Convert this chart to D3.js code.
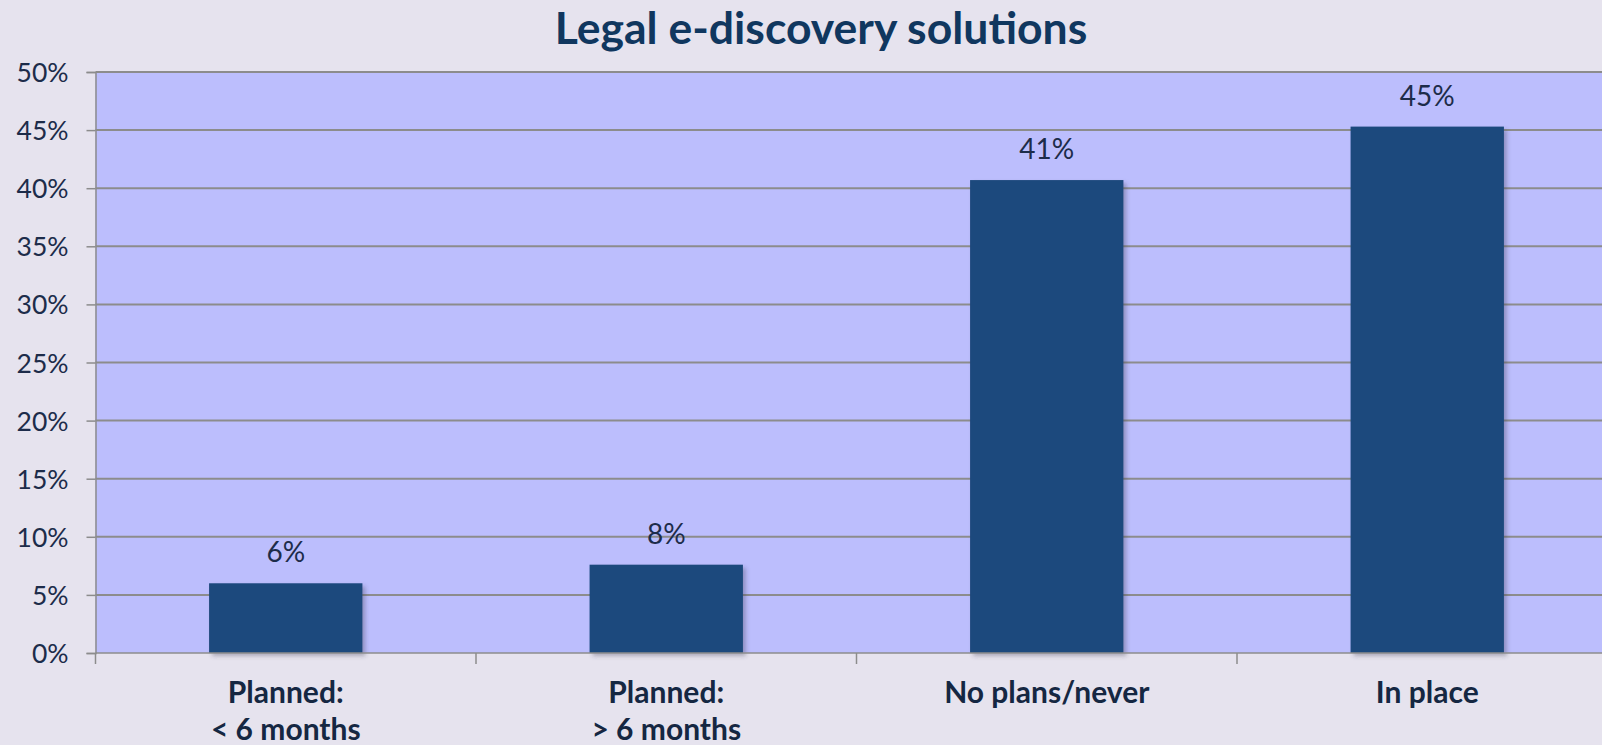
<!DOCTYPE html>
<html>
<head>
<meta charset="utf-8">
<script src="https://cdn.jsdelivr.net/npm/d3@7/dist/d3.min.js"></script>
<style>
  html, body { margin: 0; padding: 0; background: #E6E3EE; overflow: hidden; }
  svg { display: block; }
</style>
</head>
<body>
<svg id="chart" width="1602" height="745"></svg>
<script>
// Survey results: adoption status of legal e-discovery solutions
const title = "Legal e-discovery solutions";
const categories = [["Planned:", "< 6 months"], ["Planned:", "> 6 months"], ["No plans/never"], ["In place"]];
const shares = [0.060, 0.076, 0.407, 0.453];
const yTicks = [0, 0.05, 0.10, 0.15, 0.20, 0.25, 0.30, 0.35, 0.40, 0.45, 0.50];

const W = 1602, H = 745;
const margin = { top: 72, left: 95.5, bottom: 92 };
const plotW = 1522;              // plot runs past the right edge of the page
const plotH = H - margin.top - margin.bottom;

const svg = d3.select("#chart");
const fontFam = "Lato, 'Open Sans', sans-serif";

const defs = svg.append("defs");
const f = defs.append("filter").attr("id", "barShadow")
  .attr("x", "-10%").attr("y", "-10%").attr("width", "130%").attr("height", "130%");
f.append("feDropShadow").attr("dx", 3).attr("dy", 3).attr("stdDeviation", 2.2)
  .attr("flood-color", "#3a3a55").attr("flood-opacity", 0.35);

const keys = categories.map((c, i) => i);
const x = d3.scaleBand().domain(keys).range([margin.left, margin.left + plotW]).padding(0);
const y = d3.scaleLinear().domain([0, 0.5]).range([margin.top + plotH, margin.top]);

// plot background
svg.append("rect")
  .attr("x", margin.left).attr("y", y(0.5))
  .attr("width", plotW).attr("height", y(0) - y(0.5))
  .attr("fill", "#BCBEFD");

// horizontal gridlines
svg.append("g").selectAll("line").data(yTicks.filter(d => d > 0)).join("line")
  .attr("x1", margin.left).attr("x2", margin.left + plotW)
  .attr("y1", d => y(d)).attr("y2", d => y(d))
  .attr("stroke", "#8C8C8C").attr("stroke-width", 2);

// y axis
const yAxis = d3.axisLeft(y).tickValues(yTicks).tickFormat(d3.format(".0%")).tickSize(9).tickPadding(18);
const gy = svg.append("g").attr("transform", `translate(${margin.left},0)`).call(yAxis);
gy.select(".domain").attr("stroke", "#8C8C8C").attr("stroke-width", 1.5);
gy.selectAll(".tick line").attr("stroke", "#8C8C8C").attr("stroke-width", 1.5);
gy.selectAll(".tick text")
  .attr("fill", "#1D2C4A").attr("font-family", fontFam).attr("font-size", 26.5)
  .attr("dy", "0.36em");

// bars
const barW = x.bandwidth() * 0.403;
svg.append("g").selectAll("rect").data(shares).join("rect")
  .attr("x", (d, i) => x(i) + x.bandwidth() / 2 - barW / 2)
  .attr("y", d => y(d))
  .attr("width", barW)
  .attr("height", d => y(0) - y(d))
  .attr("fill", "#1F497D")
  .attr("filter", "url(#barShadow)");

// value labels
svg.append("g").selectAll("text").data(shares).join("text")
  .attr("x", (d, i) => x(i) + x.bandwidth() / 2)
  .attr("y", d => y(d) - 21)
  .attr("text-anchor", "middle")
  .attr("fill", "#1D2C4A").attr("font-family", fontFam).attr("font-size", 28)
  .text(d => d3.format(".0%")(d));

// x axis line and category boundary ticks
const gx = svg.append("g");
gx.append("line")
  .attr("x1", margin.left).attr("x2", margin.left + plotW)
  .attr("y1", y(0)).attr("y2", y(0))
  .attr("stroke", "#8C8C8C").attr("stroke-width", 1.5);
gx.selectAll("line.tk").data(keys).join("line").attr("class", "tk")
  .attr("x1", d => x(d)).attr("x2", d => x(d))
  .attr("y1", y(0)).attr("y2", y(0) + 11)
  .attr("stroke", "#8C8C8C").attr("stroke-width", 1.5);

// category labels
const cl = svg.append("g").selectAll("text").data(categories).join("text")
  .attr("x", (d, i) => x(i) + x.bandwidth() / 2)
  .attr("y", y(0) + 50)
  .attr("text-anchor", "middle")
  .attr("fill", "#152742").attr("font-family", fontFam).attr("font-weight", 700).attr("font-size", 30);
cl.each(function (d, i) {
  d3.select(this).selectAll("tspan").data(d).join("tspan")
    .attr("x", x(i) + x.bandwidth() / 2)
    .attr("dy", (t, j) => j === 0 ? 0 : 37)
    .text(t => t);
});

// title
svg.append("text")
  .attr("x", 821).attr("y", 44)
  .attr("text-anchor", "middle")
  .attr("fill", "#10375F").attr("font-family", fontFam).attr("font-weight", 700).attr("font-size", 44.5)
  .text(title);
</script>
</body>
</html>
